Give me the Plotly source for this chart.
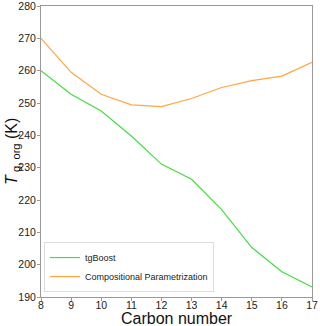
import plotly.graph_objects as go

# Carbon number vs predicted glass transition temperature
carbon_number = [8, 9, 10, 11, 12, 13, 14, 15, 16, 17]
tgboost = [260.0, 252.7, 247.5, 239.8, 231.1, 226.4, 217.0, 205.3, 197.8, 193.1]
comp_param = [270.0, 259.5, 252.7, 249.4, 248.9, 251.4, 254.8, 256.9, 258.3, 262.6]

fig = go.Figure()
fig.add_trace(go.Scatter(x=carbon_number, y=tgboost, mode='lines', name='tgBoost',
                         line=dict(color='#44dd44', width=1.2)))
fig.add_trace(go.Scatter(x=carbon_number, y=comp_param, mode='lines',
                         name='Compositional Parametrization',
                         line=dict(color='#ffa640', width=1.2)))

axis_style = dict(
    showgrid=False, zeroline=False, showline=True, linecolor='#999999', linewidth=1,
    mirror=True, ticks='outside', ticklen=3, tickcolor='#999999', automargin=False,
    ticklabeloverflow='allow',
    tickfont=dict(family='Liberation Sans, Arial', size=10.5, color='#222222'),
)

fig.update_layout(
    width=320, height=326,
    margin=dict(l=41, r=8, t=6, b=29),
    plot_bgcolor='white', paper_bgcolor='white',
    xaxis=dict(range=[8, 17], dtick=1, ticklabelstandoff=-5, **axis_style),
    yaxis=dict(range=[190, 280], dtick=10, ticklabelstandoff=-1, **axis_style),
    legend=dict(x=0.011, y=0.017, xanchor='left', yanchor='bottom',
                bgcolor='rgba(255,255,255,0.85)', bordercolor='#dddddd', borderwidth=1,
                font=dict(family='Liberation Sans, Arial', size=9, color='#222222'),
                tracegroupgap=0, itemwidth=30),
    showlegend=True,
    annotations=[
        dict(text='Carbon number', xref='paper', yref='paper', x=0.5, y=0,
             xanchor='center', yanchor='top', yshift=-11, showarrow=False,
             font=dict(family='Liberation Sans, Arial', size=16, color='#111111')),
        dict(text='<i>T</i>\u2009<sub>g, org</sub> (K)', xref='paper', yref='paper', x=0, y=0.5,
             xanchor='right', yanchor='middle', xshift=-17, textangle=-90, showarrow=False,
             font=dict(family='Liberation Sans, Arial', size=16, color='#111111')),
    ],
)

# drop the default 8px body margin so the figure fills the window
fig.write_html("out.html", config={'displayModeBar': False},
               post_script="document.body.style.margin='0';")
